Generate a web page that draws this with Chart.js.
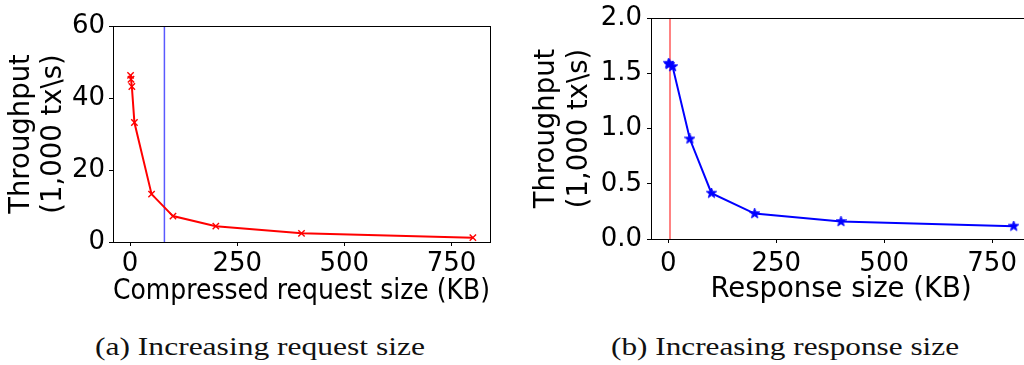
<!DOCTYPE html>
<html>
<head>
<meta charset="utf-8">
<script src="https://cdn.jsdelivr.net/npm/chart.js@4.4.1/dist/chart.umd.min.js"></script>
<style>
  html, body { margin:0; padding:0; background:#fff; }
  body { width:1024px; height:365px; overflow:hidden; position:relative; }
  canvas { position:absolute; top:0; }
  #c1 { left:0; }
  #c2 { left:520px; }
  .cap { position:absolute; font-family:"Liberation Serif", serif; font-size:26px; color:#111; white-space:nowrap; line-height:1; transform-origin:0 50%; }
</style>
</head>
<body>
<canvas id="c1" width="500" height="320"></canvas>
<canvas id="c2" width="530" height="320"></canvas>
<div class="cap" id="capA" data-w="330" style="left:95px; top:334px;">(a) Increasing request size</div>
<div class="cap" id="capB" data-w="348" style="left:611px; top:334px;">(b) Increasing response size</div>
<script>
// ---- data ----
const requestSizes = [1, 2, 4, 10, 50, 100, 200, 400, 800];          // KB
const requestThroughput = [46.3, 45.2, 43.2, 33.2, 13.3, 7.2, 4.4, 2.4, 1.2]; // 1,000 tx/s
const requestMarkerKB = 80;

const responseSizes = [1, 2, 10, 50, 100, 200, 400, 800];            // KB
const responseThroughput = [1.59, 1.58, 1.56, 0.905, 0.415, 0.23, 0.158, 0.116];
const responseMarkerKB = 4;

const xTicks = [0, 250, 500, 750];
const xLimits = [-40, 840];
const yTicksA = [0, 20, 40, 60];
const yTicksB = [0, 0.5, 1.0, 1.5, 2.0];

const yTitle = ['Throughput', '(1,000 tx\\s)'];
const xTitleA = 'Compressed request size (KB)';
const xTitleB = 'Response size (KB)';

// ---- helpers ----
const SANS = '"DejaVu Sans", sans-serif';
function starImage(color, size) {
  const c = document.createElement('canvas');
  c.width = size; c.height = size;
  const g = c.getContext('2d');
  const cx = size / 2, cy = size / 2, R = size / 2, r = R * 0.42;
  g.beginPath();
  for (let i = 0; i < 10; i++) {
    const ang = -Math.PI / 2 + i * Math.PI / 5;
    const rr = i % 2 === 0 ? R : r;
    g.lineTo(cx + rr * Math.cos(ang), cy + rr * Math.sin(ang));
  }
  g.closePath();
  g.fillStyle = color; g.fill();
  g.strokeStyle = color; g.lineWidth = 0.8; g.stroke();
  return c;
}
const frame = {
  id: 'frame',
  afterDatasetsDraw(chart) {
    const a = chart.chartArea, ctx = chart.ctx;
    ctx.save();
    ctx.strokeStyle = '#000'; ctx.lineWidth = 1;
    const l = Math.round(a.left) + 0.5, t = Math.round(a.top) + 0.5;
    const r = Math.round(a.right) + 0.5, b = Math.round(a.bottom) + 0.5;
    ctx.strokeRect(l, t, r - l, b - t);
    ctx.restore();
  }
};
function makeChart(id, cfg) {
  return new Chart(document.getElementById(id), {
    type: 'line',
    data: { datasets: [
      { data: cfg.xs.map((x, i) => ({x, y: cfg.ys[i]})), borderColor: cfg.color, backgroundColor: cfg.color,
        borderWidth: 2, pointStyle: cfg.pointStyle, pointRadius: cfg.pointRadius, pointBorderWidth: 1.4,
        pointBorderColor: cfg.color, tension: 0, order: 1 },
      { data: [{x: cfg.vline, y: cfg.yTicks[0]}, {x: cfg.vline, y: cfg.yTicks[cfg.yTicks.length - 1]}],
        borderColor: cfg.vcolor, borderWidth: 1.5, pointRadius: 0, tension: 0, order: 2 }
    ]},
    options: {
      responsive: false, animation: false, devicePixelRatio: 1,
      layout: { padding: cfg.padding },
      plugins: { legend: { display: false }, tooltip: { enabled: false } },
      scales: {
        x: {
          type: 'linear', min: xLimits[0], max: xLimits[1],
          afterBuildTicks: s => { s.ticks = xTicks.map(v => ({value: v})); },
          afterFit: s => { s.height = cfg.xHeight; },
          grid: { drawOnChartArea: false, drawTicks: true, tickLength: 4, color: '#000' },
          border: { display: false },
          ticks: { color: '#000', padding: cfg.xTickPad, maxRotation: 0, autoSkip: false,
                   font: { family: SANS, size: 26, lineHeight: 1 } },
          title: { display: true, text: cfg.xTitle, color: '#000', padding: { top: 0, bottom: cfg.xTitlePad },
                   font: { family: SANS, size: 27.5, lineHeight: 1.2 } }
        },
        y: {
          type: 'linear', min: cfg.yTicks[0], max: cfg.yTicks[cfg.yTicks.length - 1],
          afterBuildTicks: s => { s.ticks = cfg.yTicks.map(v => ({value: v})); },
          afterFit: s => { s.width = cfg.yWidth; },
          grid: { drawOnChartArea: false, drawTicks: true, tickLength: 4, color: '#000' },
          border: { display: false },
          ticks: { color: '#000', padding: cfg.yTickPad, autoSkip: false,
                   callback: cfg.yFmt, font: { family: SANS, size: 26, lineHeight: 1 } },
          title: { display: true, text: yTitle, color: '#000', padding: { top: cfg.yTitlePad, bottom: 0 },
                   font: { family: SANS, size: 27.5, lineHeight: cfg.yTitleLH } }
        }
      }
    },
    plugins: [frame]
  });
}

makeChart('c1', {
  xs: requestSizes, ys: requestThroughput, color: '#ff0000', pointStyle: 'crossRot', pointRadius: 4.5,
  vline: requestMarkerKB, vcolor: 'rgba(60,60,255,0.85)', yTicks: yTicksA, yFmt: v => String(v),
  padding: { left: 0, top: 26, right: 10, bottom: 0 }, xHeight: 78, yWidth: 113,
  xTickPad: 5, xTitlePad: 11.5, xTitle: xTitleA, yTickPad: 4, yTitlePad: 6.2, yTitleLH: 1.145
});
makeChart('c2', {
  xs: responseSizes, ys: responseThroughput, color: '#0000ff', pointStyle: starImage('#0000ff', 11), pointRadius: 5,
  vline: responseMarkerKB, vcolor: 'rgba(255,60,60,0.85)', yTicks: yTicksB, yFmt: v => v.toFixed(1),
  padding: { left: 0, top: 15, right: 19, bottom: 0 }, xHeight: 81, yWidth: 131,
  xTickPad: 8, xTitlePad: 13.5, xTitle: xTitleB, yTickPad: 5, yTitlePad: 10, yTitleLH: 1.21
});

// stretch captions horizontally to the reference widths (Computer Modern is wider than Times)
document.querySelectorAll('.cap').forEach(el => {
  const target = +el.dataset.w;
  const w = el.getBoundingClientRect().width;
  el.style.transform = 'scaleX(' + (target / w).toFixed(4) + ')';
});
</script>
</body>
</html>
